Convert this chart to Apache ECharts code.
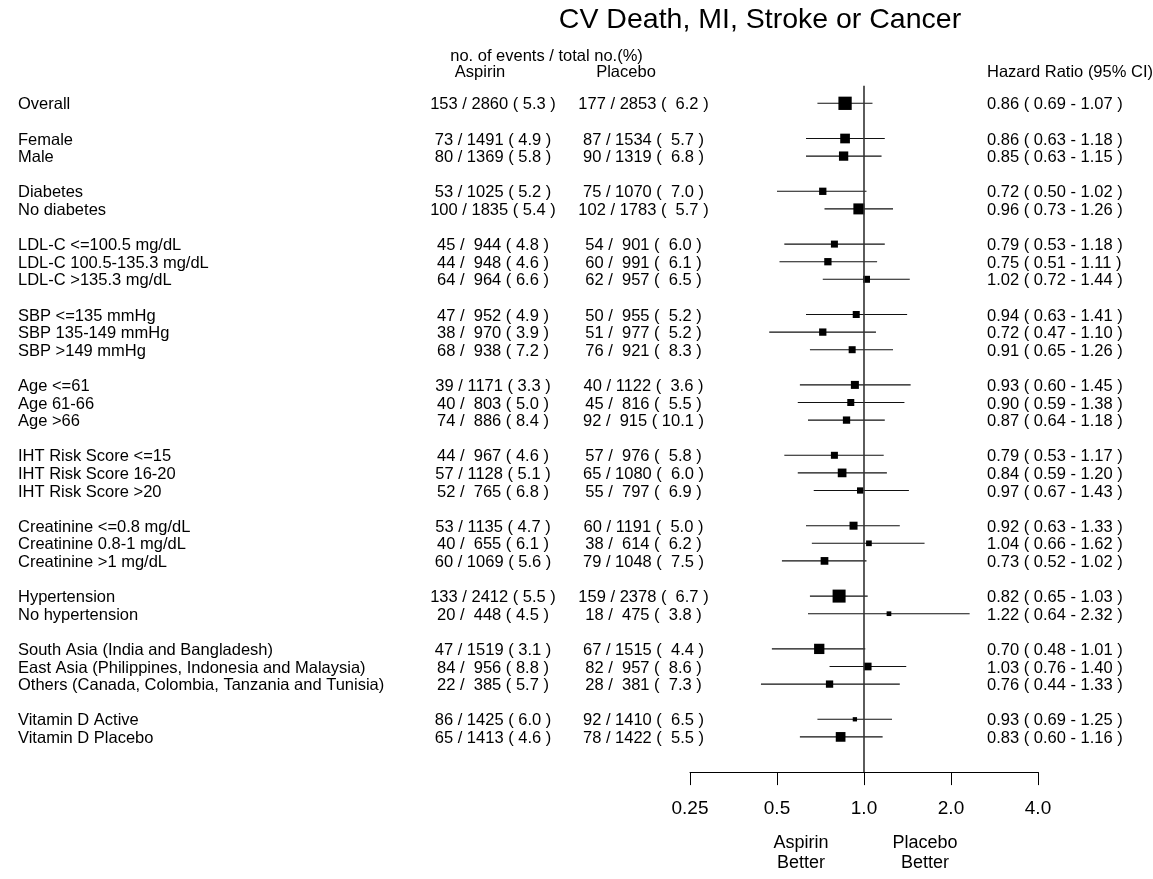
<!DOCTYPE html>
<html>
<head>
<meta charset="utf-8">
<script src="https://cdn.jsdelivr.net/npm/echarts@6/dist/echarts.min.js"></script>
<style>
html,body{margin:0;padding:0;background:#fff;}
#main{width:1153px;height:879px;}
</style>
</head>
<body>
<div id="main"></div>
<script>
// ---------- data ----------
const labels = [
  'Overall',
  'Female','Male',
  'Diabetes','No diabetes',
  'LDL-C <=100.5 mg/dL','LDL-C 100.5-135.3 mg/dL','LDL-C >135.3 mg/dL',
  'SBP <=135 mmHg','SBP 135-149 mmHg','SBP >149 mmHg',
  'Age <=61','Age 61-66','Age >66',
  'IHT Risk Score <=15','IHT Risk Score 16-20','IHT Risk Score >20',
  'Creatinine <=0.8 mg/dL','Creatinine 0.8-1 mg/dL','Creatinine >1 mg/dL',
  'Hypertension','No hypertension',
  'South Asia (India and Bangladesh)','East Asia (Philippines, Indonesia and Malaysia)','Others (Canada, Colombia, Tanzania and Tunisia)',
  'Vitamin D Active','Vitamin D Placebo'
];
// row slot of each subgroup (blank slots separate groups)
const rowSlot = [0, 2,3, 5,6, 8,9,10, 12,13,14, 16,17,18, 20,21,22, 24,25,26, 28,29, 31,32,33, 35,36];

const aspEvents = [153, 73,80, 53,100, 45,44,64, 47,38,68, 39,40,74, 44,57,52, 53,40,60, 133,20, 47,84,22, 86,65];
const aspTotal  = [2860, 1491,1369, 1025,1835, 944,948,964, 952,970,938, 1171,803,886, 967,1128,765, 1135,655,1069, 2412,448, 1519,956,385, 1425,1413];
const aspPct    = [5.3, 4.9,5.8, 5.2,5.4, 4.8,4.6,6.6, 4.9,3.9,7.2, 3.3,5.0,8.4, 4.6,5.1,6.8, 4.7,6.1,5.6, 5.5,4.5, 3.1,8.8,5.7, 6.0,4.6];

const plaEvents = [177, 87,90, 75,102, 54,60,62, 50,51,76, 40,45,92, 57,65,55, 60,38,79, 159,18, 67,82,28, 92,78];
const plaTotal  = [2853, 1534,1319, 1070,1783, 901,991,957, 955,977,921, 1122,816,915, 976,1080,797, 1191,614,1048, 2378,475, 1515,957,381, 1410,1422];
const plaPct    = [6.2, 5.7,6.8, 7.0,5.7, 6.0,6.1,6.5, 5.2,5.2,8.3, 3.6,5.5,10.1, 5.8,6.0,6.9, 5.0,6.2,7.5, 6.7,3.8, 4.4,8.6,7.3, 6.5,5.5];

const hr    = [0.86, 0.86,0.85, 0.72,0.96, 0.79,0.75,1.02, 0.94,0.72,0.91, 0.93,0.90,0.87, 0.79,0.84,0.97, 0.92,1.04,0.73, 0.82,1.22, 0.70,1.03,0.76, 0.93,0.83];
const hrLow = [0.69, 0.63,0.63, 0.50,0.73, 0.53,0.51,0.72, 0.63,0.47,0.65, 0.60,0.59,0.64, 0.53,0.59,0.67, 0.63,0.66,0.52, 0.65,0.64, 0.48,0.76,0.44, 0.69,0.60];
const hrHigh= [1.07, 1.18,1.15, 1.02,1.26, 1.18,1.11,1.44, 1.41,1.10,1.26, 1.45,1.38,1.18, 1.17,1.20,1.43, 1.33,1.62,1.02, 1.03,2.32, 1.01,1.40,1.33, 1.25,1.16];
// relative box weight
const boxWeight = [13.3, 9.7,9.3, 7.3,11, 7,7.3,7, 7,7.3,7, 8,7,7.3, 7,8.7,6.3, 8,5.7,7.7, 13,4.7, 10.3,7.7,7.3, 4.3,9.7];

const xTicks = [0.25, 0.5, 1, 2, 4];
const xTickLabels = ['0.25', '0.5', '1.0', '2.0', '4.0'];

// ---------- formatting ----------
const pad = (s, n) => String(s).padStart(n, ' ');
const aspText = aspEvents.map((e, i) => `${e} / ${pad(aspTotal[i], 4)} ( ${aspPct[i].toFixed(1)} )`);
const plaText = plaEvents.map((e, i) => `${e} / ${pad(plaTotal[i], 4)} ( ${pad(plaPct[i].toFixed(1), 4)} )`);
const hrText = hr.map((v, i) => `${v.toFixed(2)} ( ${hrLow[i].toFixed(2)} - ${hrHigh[i].toFixed(2)} )`);

// ---------- layout ----------
const FONT = '"Liberation Sans", Arial, Helvetica, sans-serif';
const ROW_FS = 16.5;
const COL_LABEL_X = 18;
const COL_ASP_X = 493;
const COL_PLA_X = 643.5;
const COL_HR_X = 987;
const TEXT_DY = 1.5;
const BOX_SCALE = 1;

const chart = echarts.init(document.getElementById('main'), null, {renderer: 'canvas'});

const forestData = hr.map((v, i) => [v, rowSlot[i], hrLow[i], hrHigh[i], boxWeight[i]]);
const textData = labels.map((l, i) => [1, rowSlot[i], i]);

const option = {
  backgroundColor: '#fff',
  animation: false,
  grid: {left: 690, right: 115, top: 85.7, height: 686.4, containLabel: false},
  xAxis: {
    type: 'log', logBase: 2, min: 0.25, max: 4, splitNumber: 4, position: 'bottom',
    axisLine: {show: true, onZero: false, lineStyle: {color: '#000', width: 1}},
    axisTick: {show: true, inside: false, length: 13, lineStyle: {color: '#000', width: 1}},
    splitLine: {show: false},
    axisLabel: {
      margin: 27, color: '#000', fontSize: 19, fontFamily: FONT,
      formatter: v => {
        const idx = xTicks.findIndex(t => Math.abs(t - v) < 1e-6);
        return idx >= 0 ? xTickLabels[idx] : '';
      }
    }
  },
  yAxis: {type: 'value', min: -1, max: 38, inverse: true, show: false},
  title: {
    text: 'CV Death, MI, Stroke or Cancer',
    left: 755, top: 1, textAlign: 'center',
    textStyle: {fontFamily: FONT, fontSize: 28.5, fontWeight: 'normal', color: '#000'}
  },
  graphic: [
    {type: 'text', x: 546.5, y: 56, style: {text: 'no. of events / total no.(%)', font: `${ROW_FS}px ${FONT}`, fill: '#000', textAlign: 'center', textVerticalAlign: 'middle'}},
    {type: 'text', x: 480, y: 72, style: {text: 'Aspirin', font: `${ROW_FS}px ${FONT}`, fill: '#000', textAlign: 'center', textVerticalAlign: 'middle'}},
    {type: 'text', x: 626, y: 72, style: {text: 'Placebo', font: `${ROW_FS}px ${FONT}`, fill: '#000', textAlign: 'center', textVerticalAlign: 'middle'}},
    {type: 'text', x: COL_HR_X, y: 72, style: {text: 'Hazard Ratio (95% CI)', font: `${ROW_FS}px ${FONT}`, fill: '#000', textAlign: 'left', textVerticalAlign: 'middle'}},
    {type: 'text', x: 801, y: 853, style: {text: 'Aspirin\nBetter', font: `18px ${FONT}`, lineHeight: 20, fill: '#000', textAlign: 'center', textVerticalAlign: 'middle'}},
    {type: 'text', x: 925, y: 853, style: {text: 'Placebo\nBetter', font: `18px ${FONT}`, lineHeight: 20, fill: '#000', textAlign: 'center', textVerticalAlign: 'middle'}}
  ],
  series: [
    {
      type: 'line', name: 'ref',
      data: [[1, -1], [1, 38]],
      symbol: 'none', silent: true,
      lineStyle: {color: '#333', width: 1.6}
    },
    {
      type: 'custom', name: 'forest',
      data: forestData,
      encode: {x: [0, 2, 3], y: 1},
      renderItem: (params, api) => {
        const y = api.value(1);
        const p = api.coord([api.value(0), y]);
        const l = api.coord([api.value(2), y]);
        const h = api.coord([api.value(3), y]);
        const s = api.value(4) * BOX_SCALE;
        return {
          type: 'group',
          children: [
            {type: 'line', shape: {x1: l[0], y1: p[1], x2: h[0], y2: p[1]}, style: {stroke: '#111', lineWidth: 1.1}},
            {type: 'rect', shape: {x: p[0] - s / 2, y: p[1] - s / 2, width: s, height: s}, style: {fill: '#000'}}
          ]
        };
      }
    },
    {
      type: 'custom', name: 'texts',
      data: textData,
      encode: {x: 0, y: 1},
      clip: false,
      renderItem: (params, api) => {
        const i = api.value(2);
        const y = api.coord([1, api.value(1)])[1] + TEXT_DY;
        const mk = (x, txt, align) => ({
          type: 'text', x: x, y: y,
          style: {text: txt, font: `${ROW_FS}px ${FONT}`, fill: '#000', textAlign: align, textVerticalAlign: 'middle'}
        });
        return {
          type: 'group',
          children: [
            mk(COL_LABEL_X, labels[i], 'left'),
            mk(COL_ASP_X, aspText[i], 'center'),
            mk(COL_PLA_X, plaText[i], 'center'),
            mk(COL_HR_X, hrText[i], 'left')
          ]
        };
      }
    }
  ]
};
chart.setOption(option);
</script>
</body>
</html>
